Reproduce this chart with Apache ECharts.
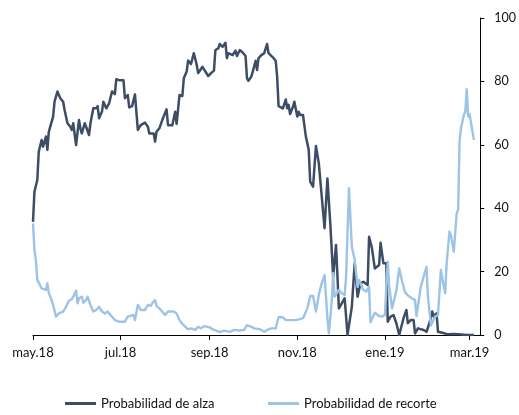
<!DOCTYPE html>
<html>
<head>
<meta charset="utf-8">
<script src="https://cdn.jsdelivr.net/npm/echarts@6/dist/echarts.min.js"></script>
<style>
  html, body { margin: 0; padding: 0; background: #fff; }
  #chart { width: 519px; height: 415px; }
</style>
</head>
<body>
<div id="chart"></div>
<script>
// Probabilidad de alza (dark series)
const alzaDates = [
  '2018-05-01','2018-05-02','2018-05-04','2018-05-05','2018-05-07','2018-05-08','2018-05-10','2018-05-11','2018-05-12','2018-05-15',
  '2018-05-16','2018-05-18','2018-05-20','2018-05-22','2018-05-23','2018-05-24','2018-05-25','2018-05-27','2018-05-28','2018-05-29',
  '2018-05-31','2018-06-02','2018-06-03','2018-06-04','2018-06-06','2018-06-07','2018-06-09','2018-06-10','2018-06-12','2018-06-14',
  '2018-06-15','2018-06-16','2018-06-18','2018-06-19','2018-06-21','2018-06-23','2018-06-25','2018-06-27','2018-06-28','2018-06-30',
  '2018-07-03','2018-07-04','2018-07-06','2018-07-07','2018-07-09','2018-07-11','2018-07-13','2018-07-15','2018-07-18','2018-07-20',
  '2018-07-21','2018-07-24','2018-07-25','2018-07-26','2018-07-28','2018-07-30','2018-08-02','2018-08-03','2018-08-06','2018-08-08',
  '2018-08-09','2018-08-11','2018-08-13','2018-08-14','2018-08-16','2018-08-17','2018-08-19','2018-08-21','2018-08-23','2018-08-24',
  '2018-08-27','2018-08-28','2018-08-31','2018-09-02','2018-09-04','2018-09-05','2018-09-07','2018-09-08','2018-09-10','2018-09-12',
  '2018-09-13','2018-09-14','2018-09-17','2018-09-19','2018-09-20','2018-09-22','2018-09-24','2018-09-26','2018-09-27','2018-09-28',
  '2018-09-30','2018-10-01','2018-10-03','2018-10-04','2018-10-05','2018-10-07','2018-10-09','2018-10-11','2018-10-12','2018-10-15',
  '2018-10-17','2018-10-18','2018-10-19','2018-10-22','2018-10-24','2018-10-25','2018-10-26','2018-10-27','2018-10-29','2018-10-30',
  '2018-11-01','2018-11-02','2018-11-03','2018-11-05','2018-11-07','2018-11-09','2018-11-10','2018-11-12','2018-11-14','2018-11-16',
  '2018-11-20','2018-11-22','2018-11-24','2018-11-26','2018-11-28','2018-11-30','2018-12-02','2018-12-04','2018-12-06','2018-12-09',
  '2018-12-11','2018-12-13','2018-12-15','2018-12-17','2018-12-20','2018-12-21','2018-12-23','2018-12-25','2018-12-28','2018-12-29',
  '2018-12-31','2019-01-02','2019-01-03','2019-01-05','2019-01-07','2019-01-09','2019-01-11','2019-01-14','2019-01-16','2019-01-17',
  '2019-01-19','2019-01-21','2019-01-22','2019-01-24','2019-01-28','2019-01-30','2019-02-01','2019-02-03','2019-02-04','2019-02-06',
  '2019-02-07','2019-02-10','2019-02-11','2019-02-14','2019-02-18','2019-02-21','2019-02-25','2019-02-28','2019-03-04'
];
const alzaValues = [
  35.7,45.2,48.9,57.8,61.5,59.4,62.6,58.4,64.1,68.9,
  73.6,76.8,74.7,73.6,71.0,71.5,66.8,65.7,64.7,66.8,
  59.9,67.8,65.2,63.6,66.8,65.7,63.1,66.8,71.5,71.5,
  72.2,68.4,70.4,73.6,71.5,73.1,76.8,76.0,80.7,80.4,
  80.4,74.7,75.7,71.8,72.2,75.9,64.7,66.2,67.0,65.7,
  63.6,63.6,61.0,64.1,65.2,67.8,71.2,66.2,66.2,70.4,
  66.6,75.7,75.4,81.0,83.1,86.6,85.5,88.9,85.2,82.6,
  84.6,84.9,81.7,82.6,83.4,89.9,90.4,91.8,90.9,92.2,
  87.3,88.9,88.3,89.7,88.0,89.9,89.1,88.0,81.0,80.2,
  81.5,83.1,86.5,83.6,87.3,88.3,88.9,91.8,88.9,87.6,
  86.5,81.5,72.2,71.5,74.3,71.5,72.6,69.7,72.0,73.6,
  68.9,70.4,69.4,69.4,62.6,58.4,48.4,46.8,59.6,54.2,
  33.7,49.4,35.2,18.4,28.4,8.4,10.0,11.6,0.0,8.9,
  22.6,12.1,16.3,16.8,15.8,31.0,27.4,21.0,22.1,29.1,
  22.6,22.6,4.2,5.8,6.3,3.7,0.0,5.3,7.9,3.7,
  4.7,4.7,0.5,2.1,1.6,1.0,3.7,7.4,5.8,6.8,
  1.0,0.7,1.0,0.2,0.3,0.2,0.1,0.0,0.0
];

// Probabilidad de recorte (light series)
const recorteDates = [
  '2018-05-01','2018-05-02','2018-05-03','2018-05-04','2018-05-07','2018-05-08','2018-05-10','2018-05-11','2018-05-12','2018-05-14',
  '2018-05-15','2018-05-17','2018-05-19','2018-05-22','2018-05-24','2018-05-26','2018-05-28','2018-05-29','2018-05-31','2018-06-01',
  '2018-06-02','2018-06-04','2018-06-05','2018-06-07','2018-06-08','2018-06-10','2018-06-12','2018-06-14','2018-06-16','2018-06-18',
  '2018-06-20','2018-06-22','2018-06-24','2018-06-27','2018-06-30','2018-07-04','2018-07-06','2018-07-07','2018-07-10','2018-07-11',
  '2018-07-13','2018-07-15','2018-07-18','2018-07-20','2018-07-22','2018-07-23','2018-07-25','2018-07-26','2018-07-27','2018-07-29',
  '2018-08-01','2018-08-03','2018-08-07','2018-08-09','2018-08-11','2018-08-13','2018-08-15','2018-08-17','2018-08-19','2018-08-22',
  '2018-08-24','2018-08-26','2018-08-28','2018-09-01','2018-09-04','2018-09-08','2018-09-11','2018-09-15','2018-09-18','2018-09-22',
  '2018-09-25','2018-09-27','2018-09-30','2018-10-02','2018-10-06','2018-10-09','2018-10-11','2018-10-14','2018-10-17','2018-10-19',
  '2018-10-22','2018-10-24','2018-10-25','2018-10-28','2018-10-30','2018-11-02','2018-11-05','2018-11-06','2018-11-08','2018-11-10',
  '2018-11-12','2018-11-14','2018-11-16','2018-11-18','2018-11-20','2018-11-22','2018-11-23','2018-11-25','2018-11-26','2018-11-27',
  '2018-11-30','2018-12-02','2018-12-04','2018-12-05','2018-12-07','2018-12-09','2018-12-11','2018-12-13','2018-12-14','2018-12-17',
  '2018-12-19','2018-12-21','2018-12-22','2018-12-25','2018-12-28','2018-12-30','2019-01-01','2019-01-03','2019-01-04','2019-01-06',
  '2019-01-07','2019-01-09','2019-01-11','2019-01-13','2019-01-15','2019-01-17','2019-01-20','2019-01-22','2019-01-23','2019-01-26',
  '2019-01-28','2019-01-30','2019-01-31','2019-02-02','2019-02-05','2019-02-07','2019-02-09','2019-02-10','2019-02-12','2019-02-13',
  '2019-02-14','2019-02-15','2019-02-16','2019-02-18','2019-02-19','2019-02-20','2019-02-21','2019-02-22','2019-02-23','2019-02-25',
  '2019-02-26','2019-02-27','2019-02-28','2019-03-01','2019-03-02','2019-03-04'
];
const recorteValues = [
  35.2,26.8,23.7,17.4,14.7,15.2,14.2,16.3,13.2,11.0,
  9.5,5.8,6.8,7.4,8.9,10.8,11.3,12.1,14.0,10.0,
  11.6,12.1,10.2,11.0,12.1,9.5,7.4,7.9,8.9,7.4,
  6.8,7.4,6.3,4.7,4.2,4.2,5.8,5.3,6.3,4.7,
  9.5,7.9,7.9,9.5,9.2,10.0,11.0,9.2,9.5,7.9,
  6.3,7.4,7.4,6.8,4.7,3.5,2.6,1.8,2.1,1.6,
  2.6,2.1,2.8,2.4,1.6,0.9,1.4,1.0,1.6,1.4,
  1.6,3.1,2.6,2.1,1.8,1.0,1.6,2.1,2.1,5.6,
  5.6,4.7,5.3,4.7,4.7,4.9,5.3,6.3,8.4,12.3,
  12.3,7.4,12.6,16.3,18.9,5.3,0.5,10.5,19.5,12.1,
  14.2,13.2,12.6,18.4,46.3,27.9,23.7,15.2,17.4,14.2,
  13.7,15.2,4.0,7.0,6.0,5.8,6.3,23.1,15.5,8.4,
  8.0,14.0,21.0,17.0,13.5,12.5,11.5,11.0,6.0,15.2,
  18.4,21.5,12.1,3.0,5.8,6.3,20.5,17.9,13.2,22.6,
  23.1,32.6,31.5,26.3,25.8,38.4,39.4,61.0,65.2,69.4,
  70.4,77.5,68.9,69.6,69.4,61.5
];

// Axis ticks and their labels
const tickDates = ['2018-05-01','2018-07-01','2018-09-01','2018-11-01','2019-01-01','2019-03-01'];
const tickLabels = ['may.18','jul.18','sep.18','nov.18','ene.19','mar.19'];
const yTicks = [0, 20, 40, 60, 80, 100];

const seriesNames = ['Probabilidad de alza', 'Probabilidad de recorte'];
const colors = ['#3E4D66', '#9DC3E6'];

// dates are placed on a numeric axis as millisecond timestamps
function toTime(s) {
  const p = s.split(/[- :]/).map(Number);
  return Date.UTC(p[0], p[1] - 1, p[2], p[3] || 0, p[4] || 0);
}
function pairs(dates, values) {
  return dates.map((d, i) => [toTime(d), values[i]]);
}

const tickTimes = tickDates.map(toTime);
const font = 'Lato, "Open Sans", sans-serif';
const textColor = '#111';

const chart = echarts.init(document.getElementById('chart'), null, { renderer: 'canvas' });
chart.setOption({
  animation: false,
  backgroundColor: '#ffffff',
  grid: { left: 33, right: 37, top: 18, bottom: 80 },
  legend: [
    {
      data: [{ name: seriesNames[0], icon: 'rect' }],
      left: 65, top: 397, padding: 0, itemWidth: 31, itemHeight: 3, itemGap: 4,
      textStyle: { fontFamily: font, fontSize: 13, color: textColor }
    },
    {
      data: [{ name: seriesNames[1], icon: 'rect' }],
      left: 268, top: 397, padding: 0, itemWidth: 31, itemHeight: 3, itemGap: 4,
      textStyle: { fontFamily: font, fontSize: 13, color: textColor }
    }
  ],
  xAxis: {
    type: 'value',
    min: toTime('2018-05-01'),
    max: toTime('2019-03-08 10:00'),
    axisLine: { onZero: false, lineStyle: { color: '#000', width: 1 } },
    axisTick: { show: true, length: 5, lineStyle: { color: '#000' }, customValues: tickTimes },
    splitLine: { show: false },
    axisLabel: {
      customValues: tickTimes,
      margin: 11,
      fontFamily: font, fontSize: 13, color: textColor,
      formatter: function (v) {
        const i = tickTimes.indexOf(v);
        return i >= 0 ? tickLabels[i] : '';
      }
    }
  },
  yAxis: {
    type: 'value',
    position: 'right',
    min: yTicks[0],
    max: yTicks[yTicks.length - 1],
    interval: 20,
    axisLine: { show: true, lineStyle: { color: '#000', width: 1 } },
    axisTick: { show: true, length: 4, lineStyle: { color: '#000' } },
    splitLine: { show: false },
    axisLabel: { margin: 14, fontFamily: font, fontSize: 12.5, color: textColor }
  },
  series: [
    {
      name: seriesNames[0], type: 'line', showSymbol: false, symbol: 'none',
      data: pairs(alzaDates, alzaValues),
      itemStyle: { color: colors[0] },
      lineStyle: { color: colors[0], width: 2.5, join: 'round' }
    },
    {
      name: seriesNames[1], type: 'line', showSymbol: false, symbol: 'none',
      data: pairs(recorteDates, recorteValues),
      itemStyle: { color: colors[1] },
      lineStyle: { color: colors[1], width: 2.4, join: 'round' }
    }
  ]
});
</script>
</body>
</html>
